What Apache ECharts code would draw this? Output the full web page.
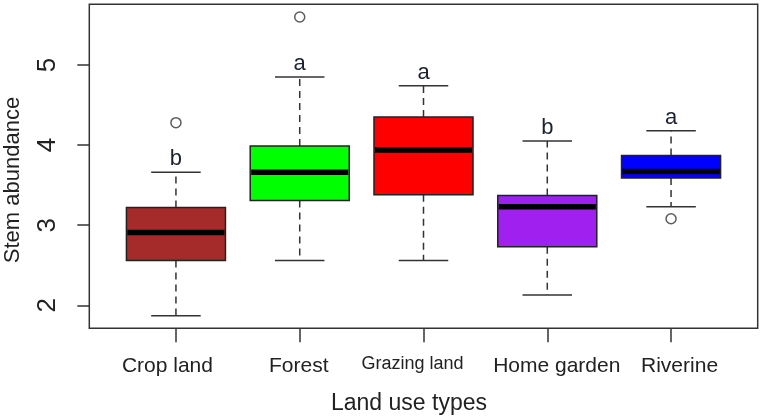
<!DOCTYPE html>
<html>
<head>
<meta charset="utf-8">
<script src="https://cdn.jsdelivr.net/npm/echarts@6/dist/echarts.min.js"></script>
<style>html,body{margin:0;padding:0;background:#fff;}#c{width:762px;height:419px;}</style>
</head>
<body>
<div id="c"></div>
<script>
// ---- data ----
const categories = ['Crop land', 'Forest', 'Grazing land', 'Home garden', 'Riverine'];
const lowerWhisker = [1.87, 2.56, 2.56, 2.13, 3.23];
const q1 = [2.56, 3.31, 3.38, 2.73, 3.59];
const median = [2.91, 3.66, 3.94, 3.23, 3.67];
const q3 = [3.22, 3.99, 4.35, 3.37, 3.87];
const upperWhisker = [3.66, 4.85, 4.74, 4.05, 4.18];
const outliers = [[1, 4.28], [2, 5.60], [5, 3.08]];
const letters = ['b', 'a', 'a', 'b', 'a'];
const boxColors = ['#a52a2a', '#00ff00', '#ff0000', '#a020f0', '#0000ff'];
const yTicks = [2, 3, 4, 5];
const xTicks = [1, 2, 3, 4, 5];

const boxData = categories.map((c, i) => [i + 1, lowerWhisker[i], q1[i], median[i], q3[i], upperWhisker[i], i]);

const font = "'Liberation Sans', Arial, sans-serif";
const chart = echarts.init(document.getElementById('c'), null, { renderer: 'canvas' });

function renderBox(params, api) {
  const x = api.value(0);
  const lw = api.value(1), b1 = api.value(2), md = api.value(3), b3 = api.value(4), uw = api.value(5);
  const i = api.value(6);
  const halfBox = 0.4, halfCap = 0.2;
  const pTL = api.coord([x - halfBox, b3]);
  const pBR = api.coord([x + halfBox, b1]);
  const pc = api.coord([x, md]);
  const pUW = api.coord([x, uw]);
  const pLW = api.coord([x, lw]);
  const pQ3 = api.coord([x, b3]);
  const pQ1 = api.coord([x, b1]);
  const capL = api.coord([x - halfCap, uw])[0];
  const capR = api.coord([x + halfCap, uw])[0];
  const lineStyle = { stroke: '#333', lineWidth: 1.5, fill: null };
  const dashStyle = { stroke: '#333', lineWidth: 1.5, lineDash: [7, 5], fill: null };
  return {
    type: 'group',
    children: [
      { type: 'line', shape: { x1: pUW[0], y1: pQ3[1], x2: pUW[0], y2: pUW[1] }, style: dashStyle },
      { type: 'line', shape: { x1: pLW[0], y1: pQ1[1], x2: pLW[0], y2: pLW[1] }, style: dashStyle },
      { type: 'line', shape: { x1: capL, y1: pUW[1], x2: capR, y2: pUW[1] }, style: lineStyle },
      { type: 'line', shape: { x1: capL, y1: pLW[1], x2: capR, y2: pLW[1] }, style: lineStyle },
      { type: 'rect', shape: { x: pTL[0], y: pTL[1], width: pBR[0] - pTL[0], height: pBR[1] - pTL[1] },
        style: { fill: boxColors[i], stroke: '#222', lineWidth: 1.5 } },
      { type: 'line', shape: { x1: pTL[0] + 1, y1: pc[1], x2: pBR[0] - 1, y2: pc[1] },
        style: { stroke: '#000', lineWidth: 5.5 } },
      { type: 'text', x: pUW[0], y: pUW[1] - 13,
        style: { text: letters[i], font: '22px ' + font, fill: '#1c2130', align: 'center', verticalAlign: 'middle' } }
    ]
  };
}

const labelShift = [
  { padding: [0, 17, 0, 0], fontSize: 21, lineHeight: 24 },
  { padding: [0, 2, 0, 0], fontSize: 21, lineHeight: 24 },
  { padding: [0, 22, 0, 0], fontSize: 18, lineHeight: 20 },
  { padding: [0, 0, 0, 19], fontSize: 21, lineHeight: 24 },
  { padding: [0, 0, 0, 17], fontSize: 21, lineHeight: 24 }
];
const rich = {};
labelShift.forEach((s, i) => { rich['c' + i] = Object.assign({ fontFamily: font, color: '#222' }, s); });

const option = {
  animation: false,
  backgroundColor: '#fff',
  grid: { left: 89.3, right: 4.3, top: 4.3, bottom: 90.7, show: true, borderColor: '#333', borderWidth: 1.5, backgroundColor: 'transparent' },
  xAxis: {
    type: 'value', min: 0.3, max: 5.7,
    axisLine: { show: false },
    splitLine: { show: false },
    axisTick: { show: true, customValues: xTicks, length: 14, inside: false, lineStyle: { color: '#333', width: 1.5 } },
    axisLabel: {
      customValues: xTicks, margin: 26, hideOverlap: false, showMinLabel: true, showMaxLabel: true,
      formatter: function (v) { const i = Math.round(v) - 1; return '{c' + i + '|' + categories[i] + '}'; },
      rich: rich
    }
  },
  yAxis: {
    type: 'value', min: 1.713, max: 5.758,
    axisLine: { show: false },
    splitLine: { show: false },
    axisTick: { show: true, customValues: yTicks, length: 12, inside: false, lineStyle: { color: '#333', width: 1.5 } },
    axisLabel: { customValues: yTicks, rotate: 90, margin: 28, fontSize: 26, fontFamily: font, color: '#222' }
  },
  graphic: [
    { type: 'text', x: 13.4, y: 180, rotation: Math.PI / 2,
      style: { text: 'Stem abundance', font: '22px ' + font, fill: '#222', align: 'center', verticalAlign: 'middle' } },
    { type: 'text', x: 409, y: 404,
      style: { text: 'Land use types', font: '23px ' + font, fill: '#222', align: 'center', verticalAlign: 'middle' } }
  ],
  series: [
    { type: 'custom', renderItem: renderBox, data: boxData, encode: { x: 0, y: [1, 2, 3, 4, 5] }, z: 2 },
    { type: 'scatter', data: outliers, symbol: 'circle', symbolSize: 10,
      itemStyle: { color: '#fff', borderColor: '#333', borderWidth: 1.5 }, z: 3 }
  ]
};
chart.setOption(option);
</script>
</body>
</html>
